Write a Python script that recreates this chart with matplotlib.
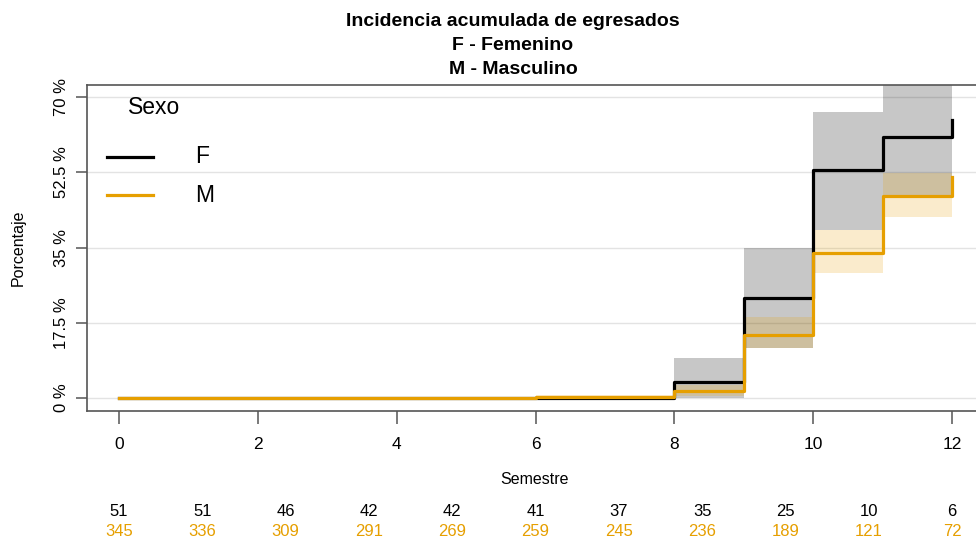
import numpy as np
import matplotlib
matplotlib.use("Agg")
import matplotlib.pyplot as plt
import matplotlib.transforms as mtransforms

# Cumulative incidence (%) by sex: step times, estimates and confidence bands
f_times = [0, 8, 9, 10, 11, 12]
f_cif = [0, 3.8, 23.3, 53.0, 60.6, 64.7]
f_lower = [0, 0, 11.6, 39.1, 47.0, 47.0]
f_upper = [0, 9.2, 35.0, 66.6, 76.0, 76.0]

m_times = [0, 6, 8, 9, 10, 11, 12]
m_cif = [0, 0.3, 1.7, 14.7, 33.8, 47.0, 51.5]
m_lower = [0, 0, 0.5, 11.6, 29.0, 42.2, 42.2]
m_upper = [0, 0.8, 3.0, 18.8, 39.1, 52.4, 52.4]

# Number at risk table
risk_times = [0, 1.2, 2.4, 3.6, 4.8, 6.0, 7.2, 8.4, 9.6, 10.8, 12.0]
risk_f = [51, 51, 46, 42, 42, 41, 37, 35, 25, 10, 6]
risk_m = [345, 336, 309, 291, 269, 259, 245, 236, 189, 121, 72]

y_ticks = [0, 17.5, 35, 52.5, 70]
y_ticklabels = ["0 %", "17.5 %", "35 %", "52.5 %", "70 %"]
x_ticks = [0, 2, 4, 6, 8, 10, 12]

ORANGE = "#E69F00"
BLACK = "#000000"
NARROW = ["Liberation Sans Narrow", "Liberation Sans", "DejaVu Sans"]
SANS = ["Liberation Sans", "DejaVu Sans"]

fig = plt.figure(figsize=(9.76, 5.40), dpi=100)
ax = fig.add_axes([87 / 976, 1 - 411 / 540, 1 - 87 / 976, (411 - 85) / 540])

ax.set_xlim(-0.461, 12.345)
ax.set_ylim(-3.02, 72.8)

# grid
for yt in y_ticks:
    ax.axhline(yt, color="#E3E3E3", lw=1.0, zorder=0)

# confidence bands
ax.fill_between(f_times, f_lower, f_upper, step="post", color="black",
                alpha=0.22, lw=0, zorder=1)
ax.fill_between(m_times, m_lower, m_upper, step="post", color=ORANGE,
                alpha=0.2, lw=0, zorder=2)

# cumulative incidence curves
ax.step(f_times, f_cif, where="post", color=BLACK, lw=2.3, zorder=3)
ax.step(m_times, m_cif, where="post", color=ORANGE, lw=2.3, zorder=4)

# axes styling
for side, sp in ax.spines.items():
    sp.set_color("#555555")
    sp.set_linewidth(1.2)
ax.spines["right"].set_visible(False)
ax.set_xticks(x_ticks)
ax.set_xticklabels([str(t) for t in x_ticks], family=NARROW, fontsize=12.5)
ax.set_yticks(y_ticks)
ax.set_yticklabels(y_ticklabels, rotation=90, va="center", family=SANS,
                   fontsize=12)
ax.tick_params(axis="x", length=9, width=1.1, color="#555555", pad=10)
ax.tick_params(axis="y", length=8, width=1.1, color="#555555", pad=5)

ax.set_ylabel("Porcentaje", family=SANS, fontsize=11.5, labelpad=20)

# title
fig.text(513 / 976, 1 - 22 / 540, "Incidencia acumulada de egresados",
         ha="center", va="center", fontsize=14, fontweight="bold", family=NARROW)
fig.text(513 / 976, 1 - 46 / 540, "F - Femenino",
         ha="center", va="center", fontsize=14, fontweight="bold", family=NARROW)
fig.text(513 / 976, 1 - 70 / 540, "M - Masculino",
         ha="center", va="center", fontsize=14, fontweight="bold", family=NARROW)

# x label
fig.text(535 / 976, 1 - 480 / 540, "Semestre", ha="center", va="center",
         fontsize=11.5, family=NARROW)

# legend
def ax_xy(px, py):
    return (px - 87) / 889, (411 - py) / 326

ax.text(*ax_xy(128, 107), "Sexo", transform=ax.transAxes, ha="left",
        va="center", fontsize=16.5, family=SANS)
for py, lab, col in [(157, "F", BLACK), (195, "M", ORANGE)]:
    x0, y0 = ax_xy(107, py)
    x1, _ = ax_xy(153, py)
    ax.plot([x0, x1], [y0, y0], transform=ax.transAxes, color=col, lw=2.3,
            clip_on=False, zorder=5)
    ax.text(*ax_xy(195, py), lab, transform=ax.transAxes, ha="left",
            va="center", fontsize=16.5, family=SANS)

# risk table
trans = mtransforms.blended_transform_factory(ax.transData, fig.transFigure)
for t, nf, nm in zip(risk_times, risk_f, risk_m):
    fig.text(t, 1 - 512 / 540, str(nf), transform=trans, ha="center",
             va="center", fontsize=12, family=NARROW, color=BLACK)
    fig.text(t, 1 - 531 / 540, str(nm), transform=trans, ha="center",
             va="center", fontsize=12, family=NARROW, color=ORANGE)

fig.savefig("out.png", dpi=100)
